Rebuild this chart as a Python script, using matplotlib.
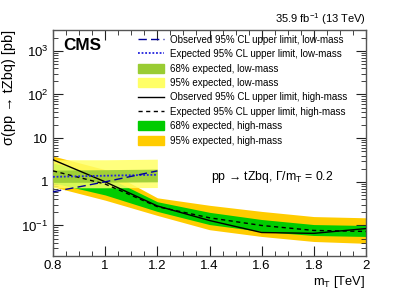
import matplotlib
matplotlib.use("Agg")
import matplotlib.pyplot as plt
from matplotlib.ticker import FixedLocator, LogLocator, MultipleLocator, NullFormatter
from matplotlib.lines import Line2D
from matplotlib.patches import Patch

plt.rcParams['font.family'] = ['Liberation Sans', 'DejaVu Sans']
plt.rcParams['mathtext.fontset'] = 'custom'
plt.rcParams['mathtext.rm'] = 'Liberation Sans'
plt.rcParams['mathtext.it'] = 'Liberation Sans'

# ---- data ----
low_mass = [0.8, 1.0, 1.2]
low_obs = [0.59, 1.0, 1.78]
low_exp = [1.30, 1.38, 1.45]
low_68_lo = [0.97, 0.98, 1.0]
low_68_hi = [1.85, 1.9, 1.95]
low_95_lo = [0.73, 0.73, 0.74]
low_95_hi = [3.2, 3.2, 3.3]

high_mass = [0.8, 1.0, 1.2, 1.4, 1.6, 1.8, 2.0]
high_obs = [3.2, 1.0, 0.28, 0.13, 0.069, 0.066, 0.085]
high_exp = [1.78, 0.89, 0.27, 0.15, 0.10, 0.077, 0.073]
high_68_lo = [0.95, 0.50, 0.21, 0.105, 0.073, 0.059, 0.056]
high_68_hi = [2.7, 1.35, 0.35, 0.20, 0.137, 0.105, 0.10]
high_95_lo = [0.77, 0.38, 0.17, 0.08, 0.056, 0.043, 0.039]
high_95_hi = [3.9, 1.9, 0.43, 0.29, 0.21, 0.16, 0.15]

W, H = 407, 292
fig = plt.figure(figsize=(W/100, H/100), dpi=100)
ax = fig.add_axes([53/W, 1-256/H, (366-53)/W, (256-30)/H])

c95h, c68h = '#ffcc00', '#00cc00'
c95l, c68l = '#ffff66', '#99cc33'

ax.fill_between(high_mass, high_95_lo, high_95_hi, color=c95h, lw=0, zorder=1)
ax.fill_between(high_mass, high_68_lo, high_68_hi, color=c68h, lw=0, zorder=2)
ax.fill_between(low_mass, low_95_lo, low_95_hi, color=c95l, lw=0, alpha=0.85, zorder=3)
ax.fill_between(low_mass, low_68_lo, low_68_hi, color=c68l, lw=0, alpha=0.9, zorder=4)
ax.plot(high_mass, high_exp, color='black', ls=(0, (3, 2.5)), lw=1.0, zorder=5)
ax.plot(high_mass, high_obs, color='black', ls='-', lw=1.0, zorder=6)
ax.plot(low_mass, low_exp, color='#2222dd', ls=(0, (1, 1)), lw=1.3, zorder=7)
ax.plot(low_mass, low_obs, color='#000099', ls=(0, (6, 3)), lw=1.0, zorder=8)

ax.set_yscale('log')
ax.set_xlim(0.8, 2.0)
ax.set_ylim(0.02, 3000)

ax.xaxis.set_minor_locator(MultipleLocator(0.05))
ax.set_xticks([0.8, 1.0, 1.2, 1.4, 1.6, 1.8, 2.0])
ax.set_xticklabels(['0.8', '1', '1.2', '1.4', '1.6', '1.8', '2'])
ax.yaxis.set_major_locator(FixedLocator([0.1, 1, 10, 100, 1000]))
ax.set_yticklabels([r'$10^{-1}$', '1', '10', r'$10^{2}$', r'$10^{3}$'])
ax.yaxis.set_minor_locator(LogLocator(base=10, subs=range(2, 10), numticks=20))
ax.yaxis.set_minor_formatter(NullFormatter())
ax.tick_params(which='both', direction='in', top=True, right=True, labelsize=9.5, colors='#222222', labelcolor='black')
ax.tick_params(which='major', length=7, width=0.8)
ax.tick_params(which='minor', length=3.5, width=0.6)
ax.tick_params(axis='x', pad=3)
for s in ax.spines.values():
    s.set_color('#555555')
    s.set_linewidth(1.0)

renderer = fig.canvas.get_renderer()

def fit_size(t, target, fs, dim='width'):
    t.set_fontsize(fs)
    for _ in range(3):
        bb = t.get_window_extent(renderer)
        cur = bb.width if dim == 'width' else bb.height
        fs = fs * target / cur
        t.set_fontsize(fs)
    return fs

xl = fig.text(365/W, 1-282/H, r'm$_{\mathregular{T}}$ [TeV]', fontsize=9.5, ha='right', va='center')
fit_size(xl, 52, 9.5)
yl = fig.text(9/W, 1-30/H, r'σ(pp → tZbq) [pb]', fontsize=9.5, rotation=90, ha='center', va='top')
fit_size(yl, 115, 9.5, dim='height')

cms = ax.text((63-53)/313, 0.965, 'CMS', transform=ax.transAxes, fontsize=12,
              fontweight='bold', va='top', ha='left')
fit_size(cms, 38, 12)
ax.text(1.0, 1.015, r'35.9 fb$^{-1}$ (13 TeV)', transform=ax.transAxes, fontsize=8, ha='right', va='bottom')
ann = ax.text((333-53)/313, (256-177)/226, r'pp → tZbq, Γ/m$_{\mathregular{T}}$ = 0.2',
              transform=ax.transAxes, fontsize=8.9, ha='right', va='center')
fit_size(ann, 123, 8.9)

handles = [
    Line2D([], [], color='#000099', ls=(0, (6, 3)), lw=1.0),
    Line2D([], [], color='#2222dd', ls=(0, (1, 1)), lw=1.3),
    Patch(color=c68l),
    Patch(color=c95l),
    Line2D([], [], color='black', lw=1.0),
    Line2D([], [], color='black', ls=(0, (3, 2.5)), lw=1.0),
    Patch(color=c68h),
    Patch(color=c95h),
]
labels = [
    'Observed 95% CL upper limit, low-mass',
    'Expected 95% CL upper limit, low-mass',
    '68% expected, low-mass',
    '95% expected, low-mass',
    'Observed 95% CL upper limit, high-mass',
    'Expected 95% CL upper limit, high-mass',
    '68% expected, high-mass',
    '95% expected, high-mass',
]

def make_legend(fs, ls, hl, hh, tp):
    return ax.legend(handles, labels, loc='upper left', bbox_to_anchor=(138/W, 1-35/H),
                     bbox_transform=fig.transFigure, frameon=False,
                     fontsize=fs, handlelength=hl, handleheight=hh, labelspacing=ls,
                     handletextpad=tp, borderaxespad=0, borderpad=0)

fs, ls = 7.0, 0.3
for _ in range(4):
    fpx = fs * 100 / 72
    leg = make_legend(fs, ls, 26/fpx, 10/fpx, 6/fpx)
    fig.canvas.draw()
    texts = leg.get_texts()
    w = texts[0].get_window_extent(renderer).width
    ys = [t.get_window_extent(renderer) for t in texts]
    pitch = ((ys[0].y0 + ys[0].y1) / 2 - (ys[7].y0 + ys[7].y1) / 2) / 7
    fs = fs * 172 / w
    fpx_new = fs * 100 / 72
    row = pitch - ls * fpx
    ls = (14.45 - row * fs / (fpx * 72 / 100)) / fpx_new
fpx = fs * 100 / 72
leg = make_legend(fs, ls, 26/fpx, 10/fpx, 6/fpx)

fig.savefig('out.png', dpi=100)
